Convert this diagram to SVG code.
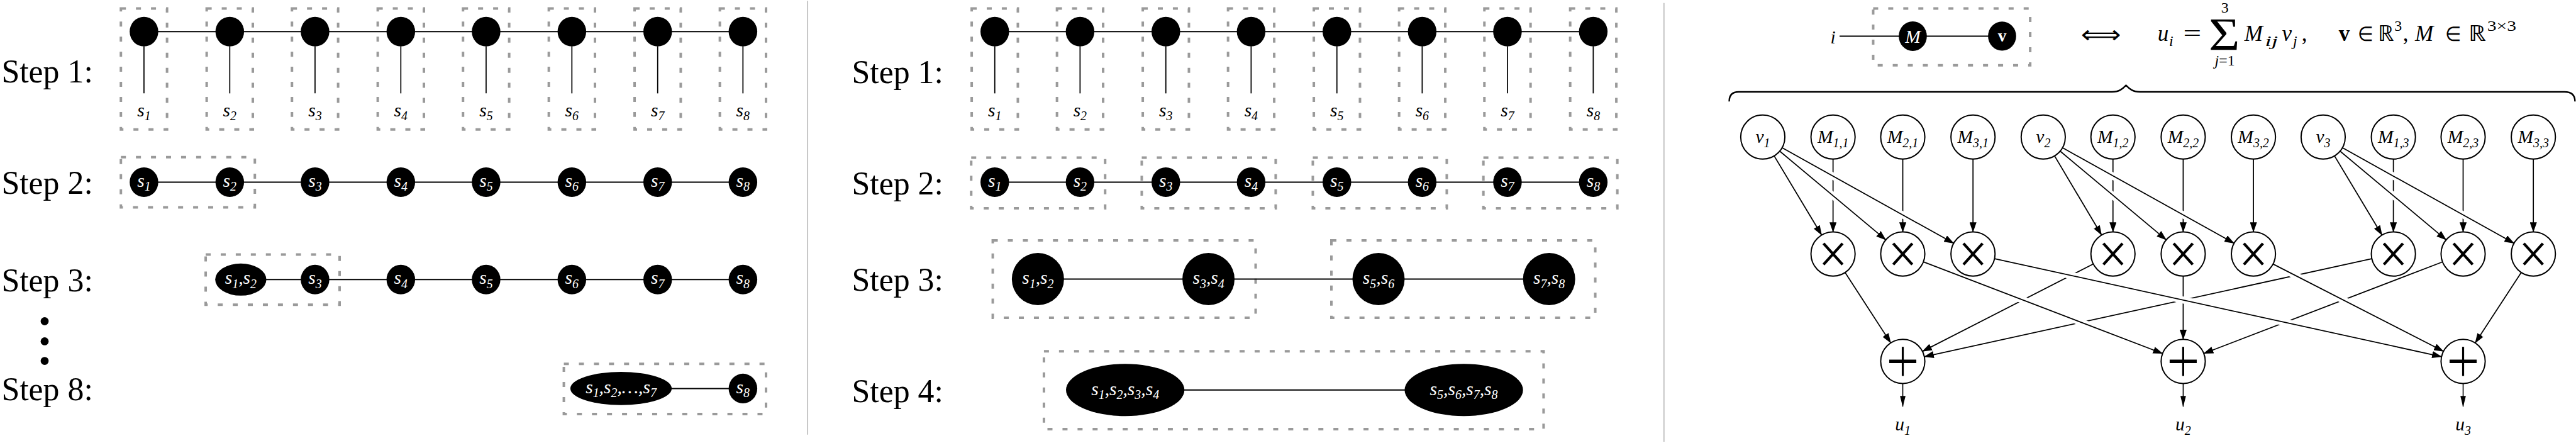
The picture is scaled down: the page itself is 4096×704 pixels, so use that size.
<svg xmlns="http://www.w3.org/2000/svg" width="4096" height="704" viewBox="0 0 4096 704">
<defs>
<marker id="ah" markerUnits="userSpaceOnUse" markerWidth="20" markerHeight="14" refX="19" refY="7" orient="auto"><path d="M0,0 L20,7 L0,14 Z" fill="#000"/></marker>
<marker id="ahs" markerUnits="userSpaceOnUse" markerWidth="22" markerHeight="11" refX="21" refY="5.5" orient="auto"><path d="M0,0 L22,5.5 L0,11 Z" fill="#000"/></marker>
</defs>
<style>
.step{font-family:"Liberation Serif",serif;font-size:65px;fill:#000}
.lb{font-family:"Liberation Serif",serif;font-style:italic;font-size:37px;fill:#000}
.w{fill:#fff}
.sb{font-size:25px}
.box{fill:none;stroke:#9a9a9a;stroke-width:5;stroke-dasharray:10 20}
.ln{stroke:#000;stroke-width:2.5;fill:none}
.e{stroke:#000;stroke-width:2.2;fill:none}
.ea{stroke:#000;stroke-width:2.2;fill:none;marker-end:url(#ah)}
.es{stroke:#000;stroke-width:2;fill:none;marker-end:url(#ahs)}
.halo{stroke:#fff;stroke-width:14;fill:none}
.wc{fill:#fff;stroke:#000;stroke-width:2.5}
.xop{stroke:#000;stroke-width:5.5;fill:none}
.fm{font-family:"Liberation Serif",serif;fill:#000}
.it{font-style:italic}
.div{stroke:#b8b8b8;stroke-width:2}
</style>
<rect width="4096" height="704" fill="#fff"/>
<g transform="scale(0.79766)">

<!-- dividers -->
<g id="dividers">
<line class="div" x1="1610" y1="2" x2="1610" y2="866"/>
<line class="div" x1="3317" y1="6" x2="3317" y2="880"/>
</g>

<!-- step labels -->
<g id="step-labels">
<text class="step" x="3" y="164">Step 1:</text>
<text class="step" x="3" y="386">Step 2:</text>
<text class="step" x="3" y="580">Step 3:</text>
<circle cx="89" cy="640" r="8"/>
<circle cx="89" cy="680" r="8"/>
<circle cx="89" cy="719" r="8"/>
<text class="step" x="3" y="797">Step 8:</text>
<text class="step" x="1698" y="165">Step 1:</text>
<text class="step" x="1698" y="388">Step 2:</text>
<text class="step" x="1698" y="579">Step 3:</text>
<text class="step" x="1698" y="801">Step 4:</text>
</g>

<!-- dashed grouping boxes -->
<g id="boxes">
<rect class="box" x="241" y="17" width="92" height="241"/>
<rect class="box" x="412" y="17" width="92" height="241"/>
<rect class="box" x="582" y="17" width="92" height="241"/>
<rect class="box" x="753" y="17" width="92" height="241"/>
<rect class="box" x="923" y="17" width="92" height="241"/>
<rect class="box" x="1094" y="17" width="92" height="241"/>
<rect class="box" x="1265" y="17" width="92" height="241"/>
<rect class="box" x="1435" y="17" width="92" height="241"/>
<rect class="box" x="241" y="313" width="267" height="100"/>
<rect class="box" x="410" y="507" width="267" height="100"/>
<rect class="box" x="1124" y="725" width="403" height="100"/>
<rect class="box" x="1937" y="17" width="92" height="241"/>
<rect class="box" x="2107" y="17" width="92" height="241"/>
<rect class="box" x="2278" y="17" width="92" height="241"/>
<rect class="box" x="2448" y="17" width="92" height="241"/>
<rect class="box" x="2619" y="17" width="92" height="241"/>
<rect class="box" x="2789" y="17" width="92" height="241"/>
<rect class="box" x="2959" y="17" width="92" height="241"/>
<rect class="box" x="3130" y="17" width="92" height="241"/>
<rect class="box" x="1936" y="314" width="267" height="101"/>
<rect class="box" x="2276" y="314" width="267" height="101"/>
<rect class="box" x="2617" y="314" width="267" height="101"/>
<rect class="box" x="2957" y="314" width="267" height="101"/>
<rect class="box" x="1979" y="479" width="524" height="154"/>
<rect class="box" x="2654" y="479" width="526" height="154"/>
<rect class="box" x="2081" y="700" width="996" height="155"/>
<rect class="box" x="3734" y="17" width="313" height="113"/>
</g>

<!-- connectors -->
<g id="connectors">
<!-- left panel -->
<line class="ln" x1="287" y1="63" x2="1481" y2="63"/>
<line class="e" x1="287" y1="92" x2="287" y2="186"/>
<line class="e" x1="458" y1="92" x2="458" y2="186"/>
<line class="e" x1="628" y1="92" x2="628" y2="186"/>
<line class="e" x1="799" y1="92" x2="799" y2="186"/>
<line class="e" x1="969" y1="92" x2="969" y2="186"/>
<line class="e" x1="1140" y1="92" x2="1140" y2="186"/>
<line class="e" x1="1311" y1="92" x2="1311" y2="186"/>
<line class="e" x1="1481" y1="92" x2="1481" y2="186"/>
<line class="ln" x1="287" y1="363" x2="1481" y2="363"/>
<line class="ln" x1="480" y1="557" x2="1481" y2="557"/>
<line class="ln" x1="1238" y1="774" x2="1481" y2="774"/>
<!-- middle panel -->
<line class="ln" x1="1983" y1="63" x2="3176" y2="63"/>
<line class="e" x1="1983" y1="92" x2="1983" y2="186"/>
<line class="e" x1="2153" y1="92" x2="2153" y2="186"/>
<line class="e" x1="2324" y1="92" x2="2324" y2="186"/>
<line class="e" x1="2494" y1="92" x2="2494" y2="186"/>
<line class="e" x1="2665" y1="92" x2="2665" y2="186"/>
<line class="e" x1="2835" y1="92" x2="2835" y2="186"/>
<line class="e" x1="3005" y1="92" x2="3005" y2="186"/>
<line class="e" x1="3176" y1="92" x2="3176" y2="186"/>
<line class="ln" x1="1983" y1="363" x2="3176" y2="363"/>
<line class="ln" x1="2069" y1="556" x2="3088" y2="556"/>
<line class="ln" x1="2243" y1="777" x2="2918" y2="777"/>
<!-- right panel: tensor diagram -->
<line class="ln" x1="3667" y1="72" x2="3991" y2="72"/>
<!-- M to multiply (vertical) -->
<line class="ea" x1="3654" y1="317" x2="3654" y2="462"/>
<line class="ea" x1="3793" y1="317" x2="3793" y2="462"/>
<line class="ea" x1="3933" y1="317" x2="3933" y2="462"/>
<line class="ea" x1="4212" y1="317" x2="4212" y2="462"/>
<line class="ea" x1="4352" y1="317" x2="4352" y2="462"/>
<line class="ea" x1="4492" y1="317" x2="4492" y2="462"/>
<line class="ea" x1="4771" y1="317" x2="4771" y2="462"/>
<line class="ea" x1="4910" y1="317" x2="4910" y2="462"/>
<line class="ea" x1="5050" y1="317" x2="5050" y2="462"/>
<!-- halos at crossings (top) -->
<line class="halo" x1="3640.2" y1="378.4" x2="3667.8" y2="401.4"/>
<line class="halo" x1="3638.3" y1="342.2" x2="3669.7" y2="359.6"/>
<line class="halo" x1="3777.3" y1="419.4" x2="3808.7" y2="436.8"/>
<line class="halo" x1="4198.2" y1="378.4" x2="4225.8" y2="401.4"/>
<line class="halo" x1="4196.3" y1="342.2" x2="4227.7" y2="359.6"/>
<line class="halo" x1="4336.3" y1="419.4" x2="4367.7" y2="436.8"/>
<line class="halo" x1="4757.2" y1="378.4" x2="4784.8" y2="401.4"/>
<line class="halo" x1="4755.3" y1="342.2" x2="4786.7" y2="359.6"/>
<line class="halo" x1="4894.3" y1="419.4" x2="4925.7" y2="436.8"/>
<!-- v to multiply (diagonal) -->
<line class="ea" x1="3536.7" y1="310.7" x2="3631.3" y2="468.3"/>
<line class="ea" x1="3547.8" y1="301.2" x2="3759.2" y2="477.8"/>
<line class="ea" x1="3552.5" y1="294.4" x2="3894.5" y2="484.6"/>
<line class="ea" x1="4095.7" y1="310.7" x2="4189.3" y2="468.3"/>
<line class="ea" x1="4106.8" y1="301.2" x2="4318.2" y2="477.8"/>
<line class="ea" x1="4111.5" y1="294.4" x2="4453.5" y2="484.6"/>
<line class="ea" x1="4653.7" y1="310.7" x2="4748.3" y2="468.3"/>
<line class="ea" x1="4664.8" y1="301.2" x2="4876.2" y2="477.8"/>
<line class="ea" x1="4669.5" y1="294.4" x2="5011.5" y2="484.6"/>
<!-- multiply to add: lower layer -->
<line class="ea" x1="3678.0" y1="542.9" x2="3769.0" y2="683.1"/>
<line class="ea" x1="4172.8" y1="526.0" x2="3832.2" y2="700.0"/>
<line class="ea" x1="4728.0" y1="515.4" x2="3836.0" y2="710.6"/>
<line class="ea" x1="4352" y1="550" x2="4352" y2="676"/>
<line class="ea" x1="4868.9" y1="521.8" x2="4393.1" y2="704.2"/>
<line class="ea" x1="5025.9" y1="542.8" x2="4934.1" y2="683.2"/>
<!-- halos at crossings (bottom) -->
<line class="halo" x1="4108.8" y1="544.5" x2="4147.8" y2="553.1"/>
<line class="halo" x1="4332.5" y1="593.4" x2="4371.5" y2="602.0"/>
<line class="halo" x1="4535.5" y1="637.9" x2="4574.5" y2="646.5"/>
<line class="halo" x1="4013.8" y1="590.5" x2="4051.2" y2="604.9"/>
<line class="halo" x1="4130.3" y1="635.0" x2="4167.7" y2="649.4"/>
<line class="halo" x1="4557.7" y1="539.7" x2="4593.3" y2="557.9"/>
<line class="halo" x1="4653.2" y1="588.6" x2="4688.8" y2="606.8"/>
<!-- multiply to add: upper layer -->
<line class="ea" x1="3834.1" y1="521.7" x2="4310.9" y2="704.3"/>
<line class="ea" x1="3976.0" y1="515.4" x2="4867.0" y2="710.6"/>
<line class="ea" x1="4531.2" y1="526.1" x2="4870.8" y2="699.9"/>
<!-- add to outputs -->
<line class="es" x1="3793" y1="764" x2="3793" y2="810"/>
<line class="es" x1="4352" y1="764" x2="4352" y2="810"/>
<line class="es" x1="4910" y1="764" x2="4910" y2="810"/>
</g>

<!-- LEFT PANEL NODES -->
<g id="L1-s1"><ellipse cx="287" cy="63" rx="28.5" ry="29.5"/><text class="lb" x="287" y="232" text-anchor="middle">s<tspan class="sb" dy="8">1</tspan></text></g>
<g id="L1-s2"><ellipse cx="458" cy="63" rx="28.5" ry="29.5"/><text class="lb" x="458" y="232" text-anchor="middle">s<tspan class="sb" dy="8">2</tspan></text></g>
<g id="L1-s3"><ellipse cx="628" cy="63" rx="28.5" ry="29.5"/><text class="lb" x="628" y="232" text-anchor="middle">s<tspan class="sb" dy="8">3</tspan></text></g>
<g id="L1-s4"><ellipse cx="799" cy="63" rx="28.5" ry="29.5"/><text class="lb" x="799" y="232" text-anchor="middle">s<tspan class="sb" dy="8">4</tspan></text></g>
<g id="L1-s5"><ellipse cx="969" cy="63" rx="28.5" ry="29.5"/><text class="lb" x="969" y="232" text-anchor="middle">s<tspan class="sb" dy="8">5</tspan></text></g>
<g id="L1-s6"><ellipse cx="1140" cy="63" rx="28.5" ry="29.5"/><text class="lb" x="1140" y="232" text-anchor="middle">s<tspan class="sb" dy="8">6</tspan></text></g>
<g id="L1-s7"><ellipse cx="1311" cy="63" rx="28.5" ry="29.5"/><text class="lb" x="1311" y="232" text-anchor="middle">s<tspan class="sb" dy="8">7</tspan></text></g>
<g id="L1-s8"><ellipse cx="1481" cy="63" rx="28.5" ry="29.5"/><text class="lb" x="1481" y="232" text-anchor="middle">s<tspan class="sb" dy="8">8</tspan></text></g>

<g id="L2-s1"><ellipse cx="287" cy="363" rx="28.5" ry="29.5"/><text class="lb w" x="287" y="372" text-anchor="middle">s<tspan class="sb" dy="8">1</tspan></text></g>
<g id="L2-s2"><ellipse cx="458" cy="363" rx="28.5" ry="29.5"/><text class="lb w" x="458" y="372" text-anchor="middle">s<tspan class="sb" dy="8">2</tspan></text></g>
<g id="L2-s3"><ellipse cx="628" cy="363" rx="28.5" ry="29.5"/><text class="lb w" x="628" y="372" text-anchor="middle">s<tspan class="sb" dy="8">3</tspan></text></g>
<g id="L2-s4"><ellipse cx="799" cy="363" rx="28.5" ry="29.5"/><text class="lb w" x="799" y="372" text-anchor="middle">s<tspan class="sb" dy="8">4</tspan></text></g>
<g id="L2-s5"><ellipse cx="969" cy="363" rx="28.5" ry="29.5"/><text class="lb w" x="969" y="372" text-anchor="middle">s<tspan class="sb" dy="8">5</tspan></text></g>
<g id="L2-s6"><ellipse cx="1140" cy="363" rx="28.5" ry="29.5"/><text class="lb w" x="1140" y="372" text-anchor="middle">s<tspan class="sb" dy="8">6</tspan></text></g>
<g id="L2-s7"><ellipse cx="1311" cy="363" rx="28.5" ry="29.5"/><text class="lb w" x="1311" y="372" text-anchor="middle">s<tspan class="sb" dy="8">7</tspan></text></g>
<g id="L2-s8"><ellipse cx="1481" cy="363" rx="28.5" ry="29.5"/><text class="lb w" x="1481" y="372" text-anchor="middle">s<tspan class="sb" dy="8">8</tspan></text></g>

<g id="L3-s12"><ellipse cx="480" cy="557" rx="51" ry="32"/><text class="lb w" x="480" y="566" text-anchor="middle">s<tspan class="sb" dy="8">1</tspan><tspan dy="-8">,s</tspan><tspan class="sb" dy="8">2</tspan></text></g>
<g id="L3-s3"><ellipse cx="628" cy="557" rx="28.5" ry="29.5"/><text class="lb w" x="628" y="566" text-anchor="middle">s<tspan class="sb" dy="8">3</tspan></text></g>
<g id="L3-s4"><ellipse cx="799" cy="557" rx="28.5" ry="29.5"/><text class="lb w" x="799" y="566" text-anchor="middle">s<tspan class="sb" dy="8">4</tspan></text></g>
<g id="L3-s5"><ellipse cx="969" cy="557" rx="28.5" ry="29.5"/><text class="lb w" x="969" y="566" text-anchor="middle">s<tspan class="sb" dy="8">5</tspan></text></g>
<g id="L3-s6"><ellipse cx="1140" cy="557" rx="28.5" ry="29.5"/><text class="lb w" x="1140" y="566" text-anchor="middle">s<tspan class="sb" dy="8">6</tspan></text></g>
<g id="L3-s7"><ellipse cx="1311" cy="557" rx="28.5" ry="29.5"/><text class="lb w" x="1311" y="566" text-anchor="middle">s<tspan class="sb" dy="8">7</tspan></text></g>
<g id="L3-s8"><ellipse cx="1481" cy="557" rx="28.5" ry="29.5"/><text class="lb w" x="1481" y="566" text-anchor="middle">s<tspan class="sb" dy="8">8</tspan></text></g>

<g id="L8-s17"><ellipse cx="1238" cy="774" rx="101" ry="33"/><text class="lb w" x="1238" y="783" text-anchor="middle">s<tspan class="sb" dy="8">1</tspan><tspan dy="-8">,s</tspan><tspan class="sb" dy="8">2</tspan><tspan dy="-8">,…,s</tspan><tspan class="sb" dy="8">7</tspan></text></g>
<g id="L8-s8"><ellipse cx="1481" cy="774" rx="28.5" ry="29.5"/><text class="lb w" x="1481" y="783" text-anchor="middle">s<tspan class="sb" dy="8">8</tspan></text></g>

<!-- MIDDLE PANEL NODES -->
<g id="M1-s1"><ellipse cx="1983" cy="63" rx="28.5" ry="29.5"/><text class="lb" x="1983" y="232" text-anchor="middle">s<tspan class="sb" dy="8">1</tspan></text></g>
<g id="M1-s2"><ellipse cx="2153" cy="63" rx="28.5" ry="29.5"/><text class="lb" x="2153" y="232" text-anchor="middle">s<tspan class="sb" dy="8">2</tspan></text></g>
<g id="M1-s3"><ellipse cx="2324" cy="63" rx="28.5" ry="29.5"/><text class="lb" x="2324" y="232" text-anchor="middle">s<tspan class="sb" dy="8">3</tspan></text></g>
<g id="M1-s4"><ellipse cx="2494" cy="63" rx="28.5" ry="29.5"/><text class="lb" x="2494" y="232" text-anchor="middle">s<tspan class="sb" dy="8">4</tspan></text></g>
<g id="M1-s5"><ellipse cx="2665" cy="63" rx="28.5" ry="29.5"/><text class="lb" x="2665" y="232" text-anchor="middle">s<tspan class="sb" dy="8">5</tspan></text></g>
<g id="M1-s6"><ellipse cx="2835" cy="63" rx="28.5" ry="29.5"/><text class="lb" x="2835" y="232" text-anchor="middle">s<tspan class="sb" dy="8">6</tspan></text></g>
<g id="M1-s7"><ellipse cx="3005" cy="63" rx="28.5" ry="29.5"/><text class="lb" x="3005" y="232" text-anchor="middle">s<tspan class="sb" dy="8">7</tspan></text></g>
<g id="M1-s8"><ellipse cx="3176" cy="63" rx="28.5" ry="29.5"/><text class="lb" x="3176" y="232" text-anchor="middle">s<tspan class="sb" dy="8">8</tspan></text></g>

<g id="M2-s1"><ellipse cx="1983" cy="363" rx="28.5" ry="29.5"/><text class="lb w" x="1983" y="372" text-anchor="middle">s<tspan class="sb" dy="8">1</tspan></text></g>
<g id="M2-s2"><ellipse cx="2153" cy="363" rx="28.5" ry="29.5"/><text class="lb w" x="2153" y="372" text-anchor="middle">s<tspan class="sb" dy="8">2</tspan></text></g>
<g id="M2-s3"><ellipse cx="2324" cy="363" rx="28.5" ry="29.5"/><text class="lb w" x="2324" y="372" text-anchor="middle">s<tspan class="sb" dy="8">3</tspan></text></g>
<g id="M2-s4"><ellipse cx="2494" cy="363" rx="28.5" ry="29.5"/><text class="lb w" x="2494" y="372" text-anchor="middle">s<tspan class="sb" dy="8">4</tspan></text></g>
<g id="M2-s5"><ellipse cx="2665" cy="363" rx="28.5" ry="29.5"/><text class="lb w" x="2665" y="372" text-anchor="middle">s<tspan class="sb" dy="8">5</tspan></text></g>
<g id="M2-s6"><ellipse cx="2835" cy="363" rx="28.5" ry="29.5"/><text class="lb w" x="2835" y="372" text-anchor="middle">s<tspan class="sb" dy="8">6</tspan></text></g>
<g id="M2-s7"><ellipse cx="3005" cy="363" rx="28.5" ry="29.5"/><text class="lb w" x="3005" y="372" text-anchor="middle">s<tspan class="sb" dy="8">7</tspan></text></g>
<g id="M2-s8"><ellipse cx="3176" cy="363" rx="28.5" ry="29.5"/><text class="lb w" x="3176" y="372" text-anchor="middle">s<tspan class="sb" dy="8">8</tspan></text></g>

<g id="M3-s12"><circle cx="2069" cy="556" r="52"/><text class="lb w" x="2069" y="566" text-anchor="middle">s<tspan class="sb" dy="8">1</tspan><tspan dy="-8">,s</tspan><tspan class="sb" dy="8">2</tspan></text></g>
<g id="M3-s34"><circle cx="2409" cy="556" r="52"/><text class="lb w" x="2409" y="566" text-anchor="middle">s<tspan class="sb" dy="8">3</tspan><tspan dy="-8">,s</tspan><tspan class="sb" dy="8">4</tspan></text></g>
<g id="M3-s56"><circle cx="2748" cy="556" r="52"/><text class="lb w" x="2748" y="566" text-anchor="middle">s<tspan class="sb" dy="8">5</tspan><tspan dy="-8">,s</tspan><tspan class="sb" dy="8">6</tspan></text></g>
<g id="M3-s78"><circle cx="3088" cy="556" r="52"/><text class="lb w" x="3088" y="566" text-anchor="middle">s<tspan class="sb" dy="8">7</tspan><tspan dy="-8">,s</tspan><tspan class="sb" dy="8">8</tspan></text></g>

<g id="M4-s1234"><ellipse cx="2243" cy="777" rx="118" ry="52"/><text class="lb w" x="2243" y="787" text-anchor="middle">s<tspan class="sb" dy="8">1</tspan><tspan dy="-8">,s</tspan><tspan class="sb" dy="8">2</tspan><tspan dy="-8">,s</tspan><tspan class="sb" dy="8">3</tspan><tspan dy="-8">,s</tspan><tspan class="sb" dy="8">4</tspan></text></g>
<g id="M4-s5678"><ellipse cx="2918" cy="777" rx="118" ry="52"/><text class="lb w" x="2918" y="787" text-anchor="middle">s<tspan class="sb" dy="8">5</tspan><tspan dy="-8">,s</tspan><tspan class="sb" dy="8">6</tspan><tspan dy="-8">,s</tspan><tspan class="sb" dy="8">7</tspan><tspan dy="-8">,s</tspan><tspan class="sb" dy="8">8</tspan></text></g>

<!-- RIGHT PANEL -->
<g id="R-i"><text class="lb" x="3654" y="86" text-anchor="middle">i</text></g>
<g id="R-M"><ellipse cx="3813" cy="72" rx="28" ry="29.5"/><text class="lb w" x="3813" y="85" text-anchor="middle" font-size="34">M</text></g>
<g id="R-v"><ellipse cx="3991" cy="72" rx="28" ry="29"/><text class="w" x="3991" y="83" text-anchor="middle" font-family="Liberation Serif, serif" font-weight="bold" font-size="34">v</text></g>
<g id="R-iff"><text x="4148" y="85" font-family="DejaVu Sans, sans-serif" font-size="48" textLength="80" lengthAdjust="spacingAndGlyphs">⟺</text></g>

<g id="R-formula">
<text class="fm it" x="4301" y="82" font-size="44">u</text>
<text class="fm it" x="4324" y="91" font-size="30">i</text>
<text class="fm" x="4352" y="82" font-size="44" textLength="36" lengthAdjust="spacingAndGlyphs">=</text>
<text class="fm" x="4403" y="100" font-size="92" textLength="62" lengthAdjust="spacingAndGlyphs">Σ</text>
<text class="fm" x="4435" y="25" font-size="30" text-anchor="middle">3</text>
<text class="fm" x="4435" y="131" font-size="30" text-anchor="middle"><tspan class="it">j</tspan>=1</text>
<text class="fm it" x="4474" y="82" font-size="44">M</text>
<text class="fm it" x="4515" y="91" font-size="30" textLength="26" lengthAdjust="spacingAndGlyphs">ij</text>
<text class="fm it" x="4549" y="82" font-size="44">v</text>
<text class="fm it" x="4571" y="91" font-size="30">j</text>
<text class="fm" x="4588" y="82" font-size="44">,</text>
<text class="fm" x="4662" y="82" font-size="44" font-weight="bold">v</text>
<text class="fm" x="4700" y="82" font-size="40" font-family="DejaVu Serif, serif" textLength="31" lengthAdjust="spacingAndGlyphs">∈</text>
<text class="fm" x="4740" y="82" font-size="44" font-family="DejaVu Serif, serif" textLength="32" lengthAdjust="spacingAndGlyphs">ℝ</text>
<text class="fm" x="4773" y="62" font-size="30">3</text>
<text class="fm" x="4790" y="82" font-size="44">,</text>
<text class="fm it" x="4814" y="82" font-size="44">M</text>
<text class="fm" x="4874" y="82" font-size="40" font-family="DejaVu Serif, serif" textLength="32" lengthAdjust="spacingAndGlyphs">∈</text>
<text class="fm" x="4921" y="82" font-size="44" font-family="DejaVu Serif, serif" textLength="35" lengthAdjust="spacingAndGlyphs">ℝ</text>
<text class="fm" x="4958" y="62" font-size="30" textLength="58" lengthAdjust="spacingAndGlyphs">3×3</text>
</g>

<g id="R-brace"><path d="M3447,202 C3447,190 3452,183 3466,183 L4210,183 C4226,183 4232,176 4238,170 C4244,176 4250,183 4266,183 L5112,183 C5126,183 5133,190 5133,202" fill="none" stroke="#000" stroke-width="3"/></g>

<g id="R-v1"><circle class="wc" cx="3514" cy="273" r="44"/><text class="lb" x="3514" y="284" text-anchor="middle">v<tspan class="sb" dy="9">1</tspan></text></g>
<g id="R-M11"><circle class="wc" cx="3654" cy="273" r="44"/><text class="lb" x="3654" y="284" text-anchor="middle">M<tspan class="sb" dy="9">1,1</tspan></text></g>
<g id="R-M21"><circle class="wc" cx="3793" cy="273" r="44"/><text class="lb" x="3793" y="284" text-anchor="middle">M<tspan class="sb" dy="9">2,1</tspan></text></g>
<g id="R-M31"><circle class="wc" cx="3933" cy="273" r="44"/><text class="lb" x="3933" y="284" text-anchor="middle">M<tspan class="sb" dy="9">3,1</tspan></text></g>
<g id="R-v2"><circle class="wc" cx="4073" cy="273" r="44"/><text class="lb" x="4073" y="284" text-anchor="middle">v<tspan class="sb" dy="9">2</tspan></text></g>
<g id="R-M12"><circle class="wc" cx="4212" cy="273" r="44"/><text class="lb" x="4212" y="284" text-anchor="middle">M<tspan class="sb" dy="9">1,2</tspan></text></g>
<g id="R-M22"><circle class="wc" cx="4352" cy="273" r="44"/><text class="lb" x="4352" y="284" text-anchor="middle">M<tspan class="sb" dy="9">2,2</tspan></text></g>
<g id="R-M32"><circle class="wc" cx="4492" cy="273" r="44"/><text class="lb" x="4492" y="284" text-anchor="middle">M<tspan class="sb" dy="9">3,2</tspan></text></g>
<g id="R-v3"><circle class="wc" cx="4631" cy="273" r="44"/><text class="lb" x="4631" y="284" text-anchor="middle">v<tspan class="sb" dy="9">3</tspan></text></g>
<g id="R-M13"><circle class="wc" cx="4771" cy="273" r="44"/><text class="lb" x="4771" y="284" text-anchor="middle">M<tspan class="sb" dy="9">1,3</tspan></text></g>
<g id="R-M23"><circle class="wc" cx="4910" cy="273" r="44"/><text class="lb" x="4910" y="284" text-anchor="middle">M<tspan class="sb" dy="9">2,3</tspan></text></g>
<g id="R-M33"><circle class="wc" cx="5050" cy="273" r="44"/><text class="lb" x="5050" y="284" text-anchor="middle">M<tspan class="sb" dy="9">3,3</tspan></text></g>

<g id="R-x11"><circle class="wc" cx="3654" cy="506" r="44"/><path class="xop" d="M3635,485 L3673,527 M3673,485 L3635,527"/></g>
<g id="R-x21"><circle class="wc" cx="3793" cy="506" r="44"/><path class="xop" d="M3774,485 L3812,527 M3812,485 L3774,527"/></g>
<g id="R-x31"><circle class="wc" cx="3933" cy="506" r="44"/><path class="xop" d="M3914,485 L3952,527 M3952,485 L3914,527"/></g>
<g id="R-x12"><circle class="wc" cx="4212" cy="506" r="44"/><path class="xop" d="M4193,485 L4231,527 M4231,485 L4193,527"/></g>
<g id="R-x22"><circle class="wc" cx="4352" cy="506" r="44"/><path class="xop" d="M4333,485 L4371,527 M4371,485 L4333,527"/></g>
<g id="R-x32"><circle class="wc" cx="4492" cy="506" r="44"/><path class="xop" d="M4473,485 L4511,527 M4511,485 L4473,527"/></g>
<g id="R-x13"><circle class="wc" cx="4771" cy="506" r="44"/><path class="xop" d="M4752,485 L4790,527 M4790,485 L4752,527"/></g>
<g id="R-x23"><circle class="wc" cx="4910" cy="506" r="44"/><path class="xop" d="M4891,485 L4929,527 M4929,485 L4891,527"/></g>
<g id="R-x33"><circle class="wc" cx="5050" cy="506" r="44"/><path class="xop" d="M5031,485 L5069,527 M5069,485 L5031,527"/></g>

<g id="R-add1"><circle class="wc" cx="3793" cy="720" r="44"/><path d="M3766,720 L3820,720" stroke="#000" stroke-width="7"/><path d="M3793,691 L3793,749" stroke="#000" stroke-width="4"/></g>
<g id="R-add2"><circle class="wc" cx="4352" cy="720" r="44"/><path d="M4325,720 L4379,720" stroke="#000" stroke-width="7"/><path d="M4352,691 L4352,749" stroke="#000" stroke-width="4"/></g>
<g id="R-add3"><circle class="wc" cx="4910" cy="720" r="44"/><path d="M4883,720 L4937,720" stroke="#000" stroke-width="7"/><path d="M4910,691 L4910,749" stroke="#000" stroke-width="4"/></g>

<g id="R-u1"><text class="lb" x="3793" y="858" text-anchor="middle" font-size="34">u<tspan class="sb" font-size="23" dy="8">1</tspan></text></g>
<g id="R-u2"><text class="lb" x="4352" y="858" text-anchor="middle" font-size="34">u<tspan class="sb" font-size="23" dy="8">2</tspan></text></g>
<g id="R-u3"><text class="lb" x="4910" y="858" text-anchor="middle" font-size="34">u<tspan class="sb" font-size="23" dy="8">3</tspan></text></g>

</g>
</svg>
